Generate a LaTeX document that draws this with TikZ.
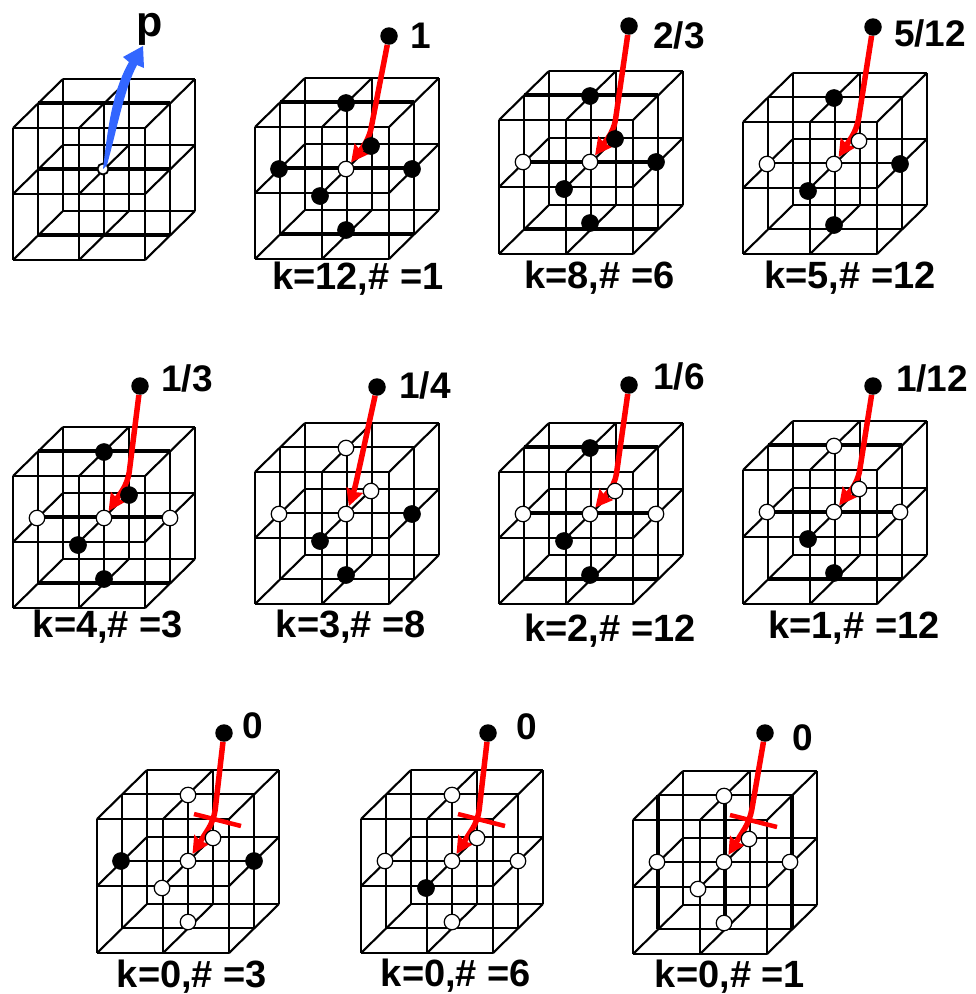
\documentclass[tikz,border=0pt]{standalone}
\usepackage{fontspec}
\setmainfont{Liberation Sans}
\usetikzlibrary{arrows.meta,calc}
\definecolor{arrowred}{RGB}{255,0,0}
\definecolor{arrowblue}{RGB}{51,102,255}
\tikzset{
  gridline/.style={draw=black,line width=2.1pt},
  gridthick/.style={draw=black,line width=3.3pt},
  blk/.style={circle,fill=black,draw=black,line width=0.6pt,minimum size=17pt,inner sep=0pt},
  wht/.style={circle,fill=white,draw=black,line width=1.2pt,minimum size=15.5pt,inner sep=0pt},
  topdot/.style={circle,fill=black,minimum size=17.5pt,inner sep=0pt},
  caption/.style={anchor=base,inner sep=0pt,font=\fontsize{38}{38}\selectfont\bfseries},
  value/.style={anchor=base,inner sep=0pt,font=\fontsize{37}{37}\selectfont\bfseries},
  redarrow/.style={draw=arrowred,line width=5.5pt,rounded corners=10pt,-{Stealth[length=17pt,width=17pt,inset=2pt]}},
  crossbar/.style={draw=arrowred,line width=4.5pt}
}
% name, x0, ytop, w, h, style of mid-depth horizontals, style of mid-depth verticals
\newcommand{\gridcube}[7]{%
  \begin{scope}[shift={(#2,#3)}]
    \foreach \d/\dy in {0/0,1/25,2/49}{
      \foreach \j in {0,1,2}{
        \draw[gridline] ({\d*25},{\j*#5/2-\dy}) -- ({#4+\d*25},{\j*#5/2-\dy});
        \draw[gridline] ({\j*#4/2+\d*25},{-\dy}) -- ({\j*#4/2+\d*25},{#5-\dy});
        \draw[gridline] ({\d*#4/2},{\j*#5/2}) -- ({\d*#4/2+50},{\j*#5/2-49});
      }
    }
    \foreach \j in {0,1,2}{
      \draw[#6] (25,{\j*#5/2-25}) -- ({#4+25},{\j*#5/2-25});
      \draw[#7] ({\j*#4/2+25},-25) -- ({\j*#4/2+25},{#5-25});
    }
    \coordinate (#1-o) at (0,0);
  \end{scope}}
% name, style of up, down, front-left, back-right, left, right
\newcommand{\cubemarks}[7]{%
  \node[#5] (#1-br) at ($(#1-o)+(116,19)$) {};
  \node[#2] (#1-u) at ($(#1-o)+(91,-24)$) {};
  \node[#3] (#1-d) at ($(#1-o)+(91,103)$) {};
  \node[#4] (#1-fl) at ($(#1-o)+(65,69)$) {};
  \node[#6] (#1-l) at ($(#1-o)+(24,42)$) {};
  \node[#7] (#1-r) at ($(#1-o)+(157,42)$) {};}
% name, bend x, bend y (relative to the centre marker)
\newcommand{\bentarrow}[3]{%
  \node[wht] (#1-c) at ($(#1-o)+(91,42)$) {};
  \draw[redarrow] (#1-dot) -- ($(#1-c)+(#2,#3)$) -- (#1-c);}
\newcommand{\crossmark}[1]{%
  \coordinate (#1-xa) at ($(#1-c)+(6,-47)$);
  \coordinate (#1-xb) at ($(#1-c)+(53,-35)$);
  \draw[crossbar] (#1-xa) -- (#1-xb);}
\begin{document}
\begin{tikzpicture}[x=1pt,y=-1pt]
\useasboundingbox (0,0) rectangle (976,994);
% cube with the vector p
\gridcube{a}{13}{128}{132}{132}{gridthick}{gridline}
\node[circle,fill=white,draw=black,line width=1.8pt,minimum size=11pt,inner sep=0pt] (a-c) at ($(a-o)+(90,41)$) {};
\node[anchor=base,inner sep=0pt,font=\fontsize{43}{43}\selectfont\bfseries] (a-p) at (150,36) {p};
\coordinate (a-tip) at (143,46);
\fill[arrowblue] (a-c.center) .. controls (108,125) and (113,90) .. (129,62) -- (123,57) -- (a-tip) -- (144,68) -- (137,65) .. controls (124,90) and (118,125) .. (107,165) -- cycle;
% first row
\gridcube{b}{255}{127}{134}{132}{gridthick}{gridline}
\node[topdot] (b-dot) at (389,36) {};
\bentarrow{b}{23}{-30}
\cubemarks{b}{blk}{blk}{blk}{blk}{blk}{blk}
\node[value] (b-v) at (421,48) {1};
\node[caption] (b-k) at (358,289) {k=12,\# =1};
\gridcube{c}{499}{120}{134}{134}{gridthick}{gridline}
\node[topdot] (c-dot) at (629,26) {};
\bentarrow{c}{24}{-32}
\cubemarks{c}{blk}{blk}{blk}{blk}{wht}{blk}
\node[value] (c-v) at (679,48) {2/3};
\node[caption] (c-k) at (599.5,288) {k=8,\# =6};
\gridcube{d}{743}{122}{134}{132}{gridline}{gridline}
\node[topdot] (d-dot) at (873,27) {};
\bentarrow{d}{23}{-35}
\cubemarks{d}{blk}{blk}{blk}{wht}{wht}{blk}
\node[value] (d-v) at (930,46) {5/12};
\node[caption] (d-k) at (850,288) {k=5,\# =12};
% second row
\gridcube{e}{13}{476}{132}{132}{gridthick}{gridline}
\node[topdot] (e-dot) at (140,386) {};
\bentarrow{e}{24}{-36}
\cubemarks{e}{blk}{blk}{blk}{blk}{wht}{wht}
\node[value] (e-v) at (187,391) {1/3};
\node[caption] (e-k) at (108,637) {k=4,\# =3};
\gridcube{f}{255}{472}{134}{132}{gridline}{gridline}
\node[topdot] (f-dot) at (377,387) {};
\bentarrow{f}{8}{-22}
\cubemarks{f}{wht}{blk}{blk}{wht}{wht}{blk}
\node[value] (f-v) at (425,398) {1/4};
\node[caption] (f-k) at (351,637) {k=3,\# =8};
\gridcube{g}{499}{472}{134}{132}{gridthick}{gridline}
\node[topdot] (g-dot) at (629,385) {};
\bentarrow{g}{25}{-30}
\cubemarks{g}{blk}{blk}{blk}{wht}{wht}{wht}
\node[value] (g-v) at (679,389) {1/6};
\node[caption] (g-k) at (610,641) {k=2,\# =12};
\gridcube{h}{743}{470}{134}{134}{gridthick}{gridline}
\node[topdot] (h-dot) at (873,386) {};
\bentarrow{h}{24}{-31}
\cubemarks{h}{wht}{blk}{blk}{wht}{wht}{wht}
\node[value] (h-v) at (932,391) {1/12};
\node[caption] (h-k) at (854,638) {k=1,\# =12};
% third row
\gridcube{i}{97}{819}{132}{134}{gridline}{gridline}
\node[topdot] (i-dot) at (224,733) {};
\bentarrow{i}{26}{-41}
\cubemarks{i}{wht}{wht}{wht}{wht}{blk}{blk}
\crossmark{i}
\node[value] (i-v) at (253,738) {0};
\node[caption] (i-k) at (192,987) {k=0,\# =3};
\gridcube{j}{361}{819}{132}{134}{gridline}{gridline}
\node[topdot] (j-dot) at (488,733) {};
\bentarrow{j}{26}{-41}
\cubemarks{j}{wht}{wht}{blk}{wht}{wht}{wht}
\crossmark{j}
\node[value] (j-v) at (527,739) {0};
\node[caption] (j-k) at (456,986) {k=0,\# =6};
\gridcube{m}{633}{820}{134}{134}{gridline}{gridthick}
\node[topdot] (m-dot) at (765,733) {};
\bentarrow{m}{26}{-42}
\cubemarks{m}{wht}{wht}{wht}{wht}{wht}{wht}
\crossmark{m}
\node[value] (m-v) at (803,750) {0};
\node[caption] (m-k) at (730,987) {k=0,\# =1};
\end{tikzpicture}
\end{document}
